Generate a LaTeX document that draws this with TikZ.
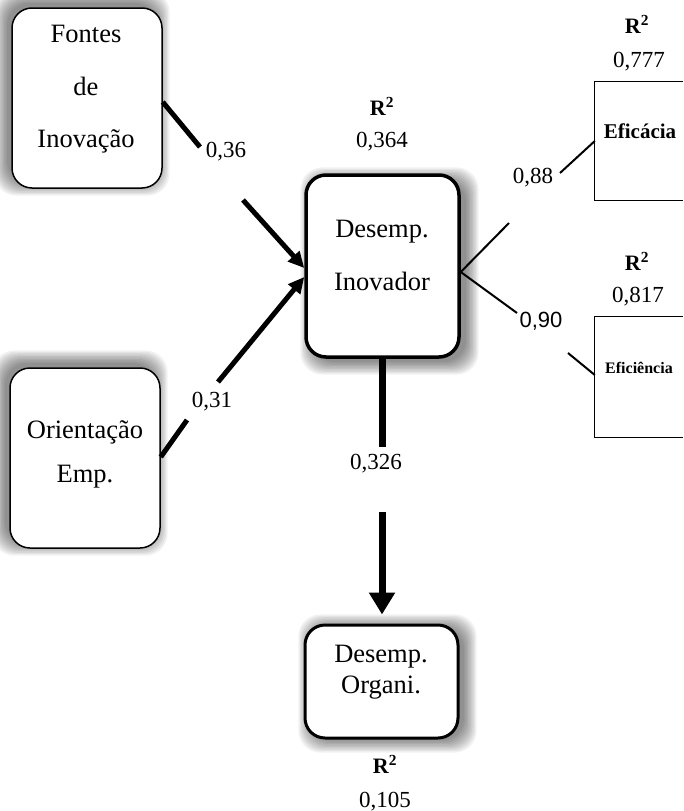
\documentclass[tikz,border=0pt]{standalone}
\usepackage{fontspec}
\setmainfont{Liberation Serif}
\newfontfamily\sansf{Liberation Sans}
\usetikzlibrary{arrows.meta}
\newcommand\softshadow[6]{%
  \foreach \k in {0,...,9}{%
    \fill[black,opacity=0.055,rounded corners=22pt]
      ({#1+#5-\k*1.4},{#2+#6-\k*1.4}) rectangle ({#3+#5+\k*1.4},{#4+#6+\k*1.4});
  }}
\begin{document}
\begin{tikzpicture}[x=1pt,y=-1pt,
  rbox/.style={draw, line width=1.5pt, rounded corners=20pt, fill=white, inner sep=0pt},
  sqbox/.style={inner sep=0pt},
  txt/.style={font=\fontsize{26.5}{30}\selectfont, anchor=base, inner sep=0pt},
  lab/.style={font=\fontsize{23}{27}\selectfont, anchor=base, inner sep=0pt},
  rsq/.style={font=\fontsize{22}{26}\selectfont\bfseries, anchor=base, inner sep=0pt},
  thk/.style={line width=5pt},
  thn/.style={line width=2pt},
  tip/.style={-{Triangle[length=16pt,width=15pt]}}]
\useasboundingbox (0,0) rectangle (683,811);
% shadows
\softshadow{12}{8}{162}{188}{-5}{-5}
\softshadow{10}{368}{160}{548}{-5}{-5}
\softshadow{307}{175}{460}{357}{6}{5}
\softshadow{305}{625}{458}{738}{6}{2}
% boxes
\node[rbox, minimum width=150pt, minimum height=180pt] (fontes) at (87,98) {};
\node[rbox, minimum width=150pt, minimum height=180pt] (orient) at (85,458) {};
\node[rbox, line width=3.5pt, minimum width=153pt, minimum height=182pt] (inov) at (382.5,266) {};
\node[rbox, line width=3pt, minimum width=153pt, minimum height=113pt] (organi) at (381.5,681.5) {};
\node[sqbox, minimum width=88pt, minimum height=118pt] (efica) at (639,141) {};
\node[sqbox, minimum width=88pt, minimum height=120pt] (efici) at (639,377) {};
\draw[line width=1.3pt] (efica.north east) -- (efica.north west) -- (efica.south west) -- (efica.south east);
\draw[line width=1.3pt] (efici.north east) -- (efici.north west) -- (efici.south west) -- (efici.south east);
% box texts
\node[txt] (t1) at (86,42) {Fontes};
\node[txt] (t2) at (86,95) {de};
\node[txt] (t3) at (86,147) {Inovação};
\node[txt] (t4) at (85,438) {Orientação};
\node[txt] (t5) at (85,482) {Emp.};
\node[txt] (t6) at (382,237) {Desemp.};
\node[txt] (t7) at (382,290) {Inovador};
\node[txt] (t8) at (381,662) {Desemp.};
\node[txt] (t9) at (381,693) {Organi.};
\node[anchor=base, inner sep=0pt, font=\fontsize{21}{24}\selectfont\bfseries] (t10) at (640,138) {Eficácia};
\node[anchor=base, inner sep=0pt, font=\fontsize{16}{19}\selectfont\bfseries] (t11) at (639,373) {Eficiência};
% R2 labels
\node[rsq] (r1) at (382,115) {R\textsuperscript{2}};
\node[lab] (v1t) at (382,147) {0,364};
\node[rsq] (r2) at (637,33) {R\textsuperscript{2}};
\node[lab] (v2t) at (639,67) {0,777};
\node[rsq] (r3) at (637,270) {R\textsuperscript{2}};
\node[lab] (v3t) at (638,302) {0,817};
\node[rsq] (r4) at (385,773) {R\textsuperscript{2}};
\node[lab] (v4t) at (385,807) {0,105};
% path labels
\node[lab] (l1) at (226,157) {0,36};
\node[lab] (l2) at (212,407) {0,31};
\node[lab] (l3) at (533,183) {0,88};
\node[anchor=base, inner sep=0pt, font=\sansf\fontsize{22}{26}\selectfont] (l4) at (541,327) {0,90};
\node[lab] (l5) at (376,469) {0,326};
% coordinates
\coordinate (f1) at (200,147);
\coordinate (f2) at (243,200);
\coordinate (o1) at (187,420);
\coordinate (o2) at (218,382);
\coordinate (e1) at (509,223);
\coordinate (e2) at (560,173);
\coordinate (g1) at (517,313);
\coordinate (g2) at (568,353);
\coordinate (d1) at (382,447);
\coordinate (d2) at (382,512);
% connectors
\draw[thk] ([yshift=-4pt]fontes.east) -- (f1);
\draw[thk, tip] (f2) -- ([yshift=-2pt]inov.west);
\draw[thk] ([yshift=1pt]orient.east) -- (o1);
\draw[thk, tip] (o2) -- ([yshift=-11pt]inov.west);
\draw[thn] ([yshift=-6pt]inov.east) -- (e1);
\draw[thn] (e2) -- (efica.west);
\draw[thn] ([yshift=-6pt]inov.east) -- (g1);
\draw[thn] (g2) -- ([yshift=2pt]efici.west);
\draw[line width=7pt] ([xshift=-0.5pt]inov.south) -- (d1);
\draw[line width=7pt, -{Triangle[length=22pt,width=25pt]}, shorten >=9pt] (d2) -- ([xshift=0.5pt]organi.north);
\end{tikzpicture}
\end{document}
